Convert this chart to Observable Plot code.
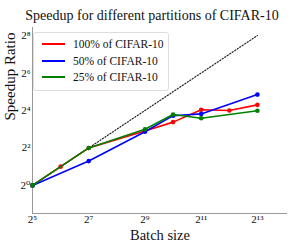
<!DOCTYPE html>
<html><head><meta charset="utf-8">
<script src="https://cdn.jsdelivr.net/npm/d3@7"></script>
<script src="https://cdn.jsdelivr.net/npm/@observablehq/plot@0.6"></script>
<style>
body{margin:0;background:#fff;}
#wrap{position:relative;width:291px;height:247px;font-family:"Liberation Serif","DejaVu Serif",serif;}
#legend{position:absolute;left:33px;top:32px;width:136px;height:59px;border:1px solid #ddd;border-radius:3px;background:rgba(255,255,255,0.85);box-sizing:border-box;}
.row{position:absolute;left:8px;height:14px;font-size:11.5px;line-height:14px;color:#111;white-space:nowrap;}
.sw{position:absolute;left:0;top:6px;width:23px;height:2px;}
.lbl{position:absolute;left:31px;top:0;}
</style></head>
<body><div id="wrap"></div>
<script>
const title = "Speedup for different partitions of CIFAR-10";
const xLabel = "Batch size";
const yLabel = "Speedup Ratio";
const seriesNames = ["100% of CIFAR-10", "50% of CIFAR-10", "25% of CIFAR-10"];
const seriesColors = ["#ff0000", "#0000ff", "#008000"];
const redBatch = [32, 64, 128, 512, 1024, 2048, 4096, 8192];
const redSpeedup = [1, 2, 4, 7.5, 10.4, 16.4, 16, 19.7];
const blueBatch = [32, 128, 512, 1024, 2048, 8192];
const blueSpeedup = [1, 2.46, 7.3, 13.2, 14.1, 28.8];
const greenBatch = [32, 128, 512, 1024, 2048, 8192];
const greenSpeedup = [1, 4, 8, 13.8, 12.0, 15.8];
const idealBatch = [32, 8192];
const idealSpeedup = [1, 256];
const xTicks = [32, 128, 512, 2048, 8192];
const yTicks = [1, 4, 16, 64, 256];

const sup = {"0":"⁰","1":"¹","2":"²","3":"³","4":"⁴","5":"⁵","6":"⁶","7":"⁷","8":"⁸","9":"⁹","-":"⁻"};
const fmt = d => "2" + String(Math.round(Math.log2(d))).split("").map(c => sup[c]).join("");

const mk = (bs, sp) => bs.map((b, i) => ({b, s: sp[i]}));
const series = [mk(redBatch, redSpeedup), mk(blueBatch, blueSpeedup), mk(greenBatch, greenSpeedup)];
const ideal = mk(idealBatch, idealSpeedup);

const xDomain = [32, Math.pow(2, 14.07)];
const yDomain = [Math.pow(2, -1.5), Math.pow(2, 8.43)];

const marks = [
  Plot.ruleX([xDomain[0]], {stroke: "#999", strokeWidth: 1}),
  Plot.ruleY([yDomain[0]], {stroke: "#999", strokeWidth: 1}),
  Plot.line(ideal, {x: "b", y: "s", stroke: "#222", strokeWidth: 1.2, strokeDasharray: "1.2,1.8"}),
];
series.forEach((d, i) => {
  marks.push(Plot.line(d, {x: "b", y: "s", stroke: seriesColors[i], strokeWidth: 1.6}));
  marks.push(Plot.dot(d, {x: "b", y: "s", fill: seriesColors[i], r: 2.3}));
});
marks.push(
  Plot.text([title], {frameAnchor: "top", dy: -17, dx: -8, fontSize: 14, fill: "#111"}),
  Plot.text([xLabel], {frameAnchor: "bottom", dy: 26, fontSize: 14.5, fill: "#111"}),
  Plot.text([yLabel], {frameAnchor: "left", dx: -22, rotate: -90, fontSize: 15, fill: "#111"})
);

const chart = Plot.plot({
  width: 291, height: 247,
  marginLeft: 32, marginRight: 4, marginTop: 27, marginBottom: 34,
  style: {fontFamily: "Liberation Serif, DejaVu Serif, serif", fontSize: "11px", color: "#111", background: "#fff"},
  x: {type: "log", base: 2, domain: xDomain, ticks: xTicks, tickFormat: fmt, tickSize: 0, tickPadding: 2, label: null},
  y: {type: "log", base: 2, domain: yDomain, ticks: yTicks, tickFormat: fmt, tickSize: 0, tickPadding: 2, label: null},
  marks
});
const wrap = document.getElementById("wrap");
wrap.appendChild(chart);
const leg = document.createElement("div");
leg.id = "legend";
seriesNames.forEach((n, i) => {
  const r = document.createElement("div");
  r.className = "row";
  r.style.top = (4 + i * 16.5) + "px";
  const sw = document.createElement("div");
  sw.className = "sw";
  sw.style.backgroundColor = seriesColors[i];
  const t = document.createElement("span");
  t.className = "lbl";
  t.textContent = n;
  r.appendChild(sw);
  r.appendChild(t);
  leg.appendChild(r);
});
wrap.appendChild(leg);
</script></body></html>
